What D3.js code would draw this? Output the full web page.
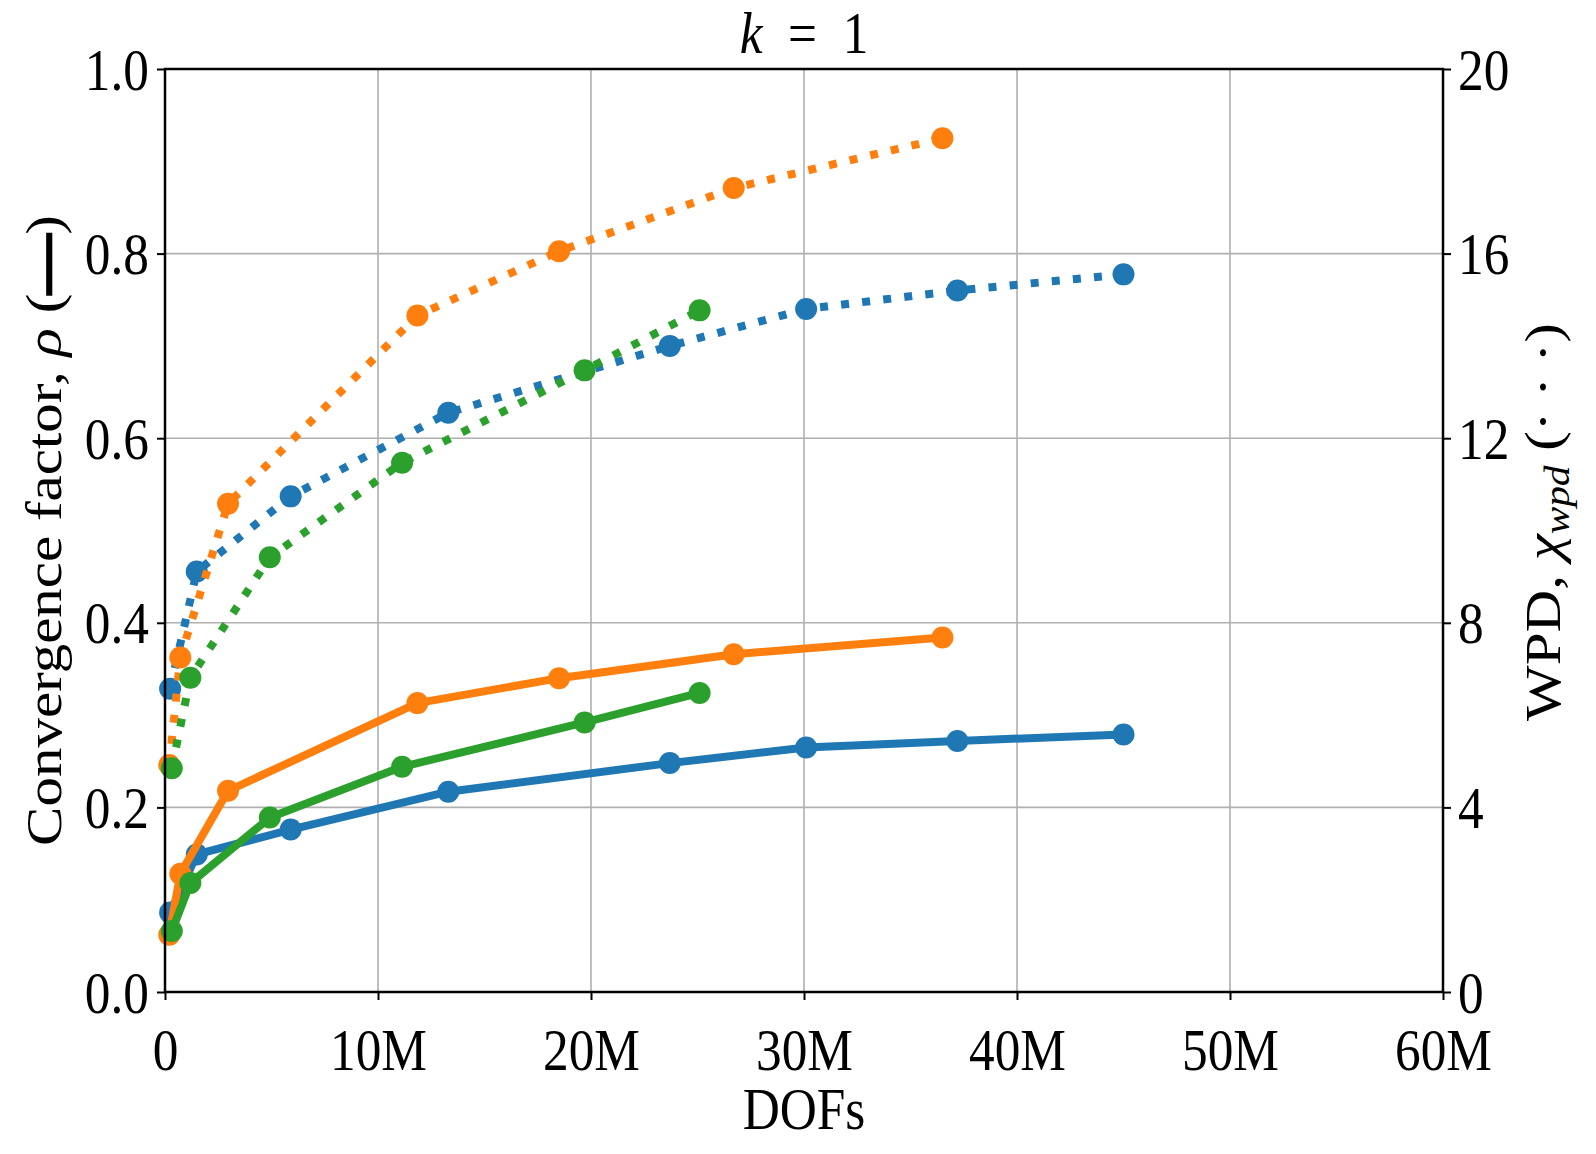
<!DOCTYPE html>
<html>
<head>
<meta charset="utf-8">
<script src="https://cdn.jsdelivr.net/npm/d3@7"></script>
<style>
  body { margin: 0; background: #fff; }
  svg text { font-family: "Liberation Serif", "DejaVu Serif", serif; fill: #000; }
</style>
</head>
<body>
<div class="canvas"></div>
<script>
// margins and dimensions
const w = 1596;
const h = 1154;
const margin = { top: 69, right: 153, bottom: 162, left: 165 };
const graphWidth = w - margin.left - margin.right;
const graphHeight = h - margin.top - margin.bottom;
const fontSize = 59;
const squeeze = 0.87; // the reference text is narrow

// series colours (matplotlib defaults)
const colors = ["#1f77b4", "#ff7f0e", "#2ca02c"];

// DOFs in millions
const dofsBlue = [0.24, 1.49, 5.9, 13.3, 23.7, 30.1, 37.2, 45.0];
const dofsOrange = [0.2, 0.72, 2.96, 11.85, 18.5, 26.7, 36.5];
const dofsGreen = [0.32, 1.19, 4.92, 11.13, 19.7, 25.1];

// convergence factor (left axis, solid)
const rhoBlue = [0.086, 0.149, 0.176, 0.217, 0.248, 0.265, 0.272, 0.279];
const rhoOrange = [0.062, 0.128, 0.218, 0.313, 0.34, 0.366, 0.384];
const rhoGreen = [0.066, 0.118, 0.189, 0.244, 0.292, 0.324];

// WPD (right axis, dotted)
const wpdBlue = [6.57, 9.11, 10.74, 12.55, 14.0, 14.8, 15.2, 15.55];
const wpdOrange = [4.92, 7.25, 10.58, 14.66, 16.05, 17.42, 18.5];
const wpdGreen = [4.85, 6.81, 9.42, 11.47, 13.47, 14.77];

// ticks
const xTicks = [0, 10, 20, 30, 40, 50, 60];
const xTickLabels = ["0", "10M", "20M", "30M", "40M", "50M", "60M"];
const yTicks = [0, 0.2, 0.4, 0.6, 0.8, 1.0];
const y2Ticks = [0, 4, 8, 12, 16, 20];

const series = [
  { dofs: dofsBlue, rho: rhoBlue, wpd: wpdBlue, color: colors[0] },
  { dofs: dofsOrange, rho: rhoOrange, wpd: wpdOrange, color: colors[1] },
  { dofs: dofsGreen, rho: rhoGreen, wpd: wpdGreen, color: colors[2] }
];

const svg = d3.select(".canvas").append("svg").attr("width", w).attr("height", h);

const graph = svg.append("g")
  .attr("transform", `translate(${margin.left}, ${margin.top})`);

// scales
const xScale = d3.scaleLinear().domain([0, 60]).range([0, graphWidth]);
const yScale = d3.scaleLinear().domain([0, 1]).range([graphHeight, 0]);
const y2Scale = d3.scaleLinear().domain([0, 20]).range([graphHeight, 0]);

// grid
graph.append("g")
  .selectAll("line")
  .data(xTicks)
  .enter()
  .append("line")
  .attr("x1", d => xScale(d)).attr("x2", d => xScale(d))
  .attr("y1", 0).attr("y2", graphHeight)
  .attr("stroke", "#b0b0b0").attr("stroke-width", 1.6);
graph.append("g")
  .selectAll("line")
  .data(yTicks)
  .enter()
  .append("line")
  .attr("x1", 0).attr("x2", graphWidth)
  .attr("y1", d => yScale(d)).attr("y2", d => yScale(d))
  .attr("stroke", "#b0b0b0").attr("stroke-width", 1.6);

// lines and markers
const solid = d3.line().x(d => xScale(d[0])).y(d => yScale(d[1]));
const dotted = d3.line().x(d => xScale(d[0])).y(d => y2Scale(d[1]));

series.forEach(s => {
  const pts = s.dofs.map((x, i) => [x, s.rho[i]]);
  graph.append("path")
    .datum(pts)
    .attr("d", solid)
    .attr("fill", "none")
    .attr("stroke", s.color)
    .attr("stroke-width", 8)
    .attr("stroke-linejoin", "round")
    .attr("stroke-linecap", "round");
  graph.selectAll(null)
    .data(pts)
    .enter()
    .append("circle")
    .attr("cx", d => xScale(d[0]))
    .attr("cy", d => yScale(d[1]))
    .attr("r", 11)
    .attr("fill", s.color);
});

series.forEach(s => {
  const pts = s.dofs.map((x, i) => [x, s.wpd[i]]);
  graph.append("path")
    .datum(pts)
    .attr("d", dotted)
    .attr("fill", "none")
    .attr("stroke", s.color)
    .attr("stroke-width", 8)
    .attr("stroke-dasharray", "8,13.2");
  graph.selectAll(null)
    .data(pts)
    .enter()
    .append("circle")
    .attr("cx", d => xScale(d[0]))
    .attr("cy", d => y2Scale(d[1]))
    .attr("r", 11)
    .attr("fill", s.color);
});

// axes
const xAxis = d3.axisBottom(xScale).tickValues(xTicks).tickFormat((d, i) => xTickLabels[i]).tickSize(8);
const gx = graph.append("g")
  .attr("transform", `translate(0, ${graphHeight})`)
  .call(xAxis);

const yAxis = d3.axisLeft(yScale).tickValues(yTicks).tickFormat(d3.format(".1f")).tickSize(8);
const gy = graph.append("g").call(yAxis);

const y2Axis = d3.axisRight(y2Scale).tickValues(y2Ticks).tickFormat(d3.format("d")).tickSize(8);
const gy2 = graph.append("g")
  .attr("transform", `translate(${graphWidth}, 0)`)
  .call(y2Axis);

[gx, gy, gy2].forEach(g => {
  g.select(".domain").remove();
  g.selectAll(".tick line").attr("stroke", "#000").attr("stroke-width", 2);
  g.selectAll(".tick text")
    .style("font-family", '"Liberation Serif", serif')
    .attr("font-size", fontSize)
    .attr("fill", "#000")
    .attr("x", 0).attr("y", 0);
});
gx.selectAll(".tick text").attr("dy", 0).attr("transform", `translate(0, 78) scale(${squeeze}, 1)`);
gy.selectAll(".tick text").attr("dy", "0.34em").attr("transform", `translate(-16, 0) scale(${squeeze}, 1)`);
gy2.selectAll(".tick text").attr("dy", "0.34em").attr("transform", `translate(15, 0) scale(${squeeze}, 1)`);

// frame
graph.append("rect")
  .attr("width", graphWidth)
  .attr("height", graphHeight)
  .attr("fill", "none")
  .attr("stroke", "#000")
  .attr("stroke-width", 2.5);

// title
const title = svg.append("text")
  .attr("transform", `translate(${margin.left + graphWidth / 2}, 53) scale(${squeeze}, 1)`)
  .attr("text-anchor", "middle")
  .attr("font-size", fontSize);
title.append("tspan").attr("font-style", "italic").text("k");
title.append("tspan").text("\u2002=\u20021");

// x label
svg.append("text")
  .attr("transform", `translate(${margin.left + graphWidth / 2}, 1129) scale(${squeeze}, 1)`)
  .attr("text-anchor", "middle")
  .attr("font-size", fontSize)
  .text("DOFs");

// left label
const yLabel = svg.append("text")
  .attr("transform", `translate(61, ${margin.top + graphHeight / 2}) rotate(-90) scale(1, ${squeeze})`)
  .attr("text-anchor", "middle")
  .attr("font-size", fontSize);
yLabel.append("tspan").text("Convergence factor, ");
yLabel.append("tspan").attr("font-style", "italic").text("ρ");
yLabel.append("tspan").text(" (");
yLabel.append("tspan").attr("font-weight", "bold").attr("stroke", "#000").attr("stroke-width", 3).text("—");
yLabel.append("tspan").text(")");

// right label
const y2Label = svg.append("text")
  .attr("transform", `translate(1560, 522) rotate(-90) scale(1, ${squeeze})`)
  .attr("text-anchor", "middle")
  .attr("font-size", fontSize);
y2Label.append("tspan").text("WPD, ");
y2Label.append("tspan").attr("font-style", "italic").text("χ");
y2Label.append("tspan").attr("font-style", "italic").attr("font-size", fontSize * 0.7).attr("dy", 10).text("wpd");
y2Label.append("tspan").attr("dy", -10).text(" (· · ·)");
</script>
</body>
</html>
